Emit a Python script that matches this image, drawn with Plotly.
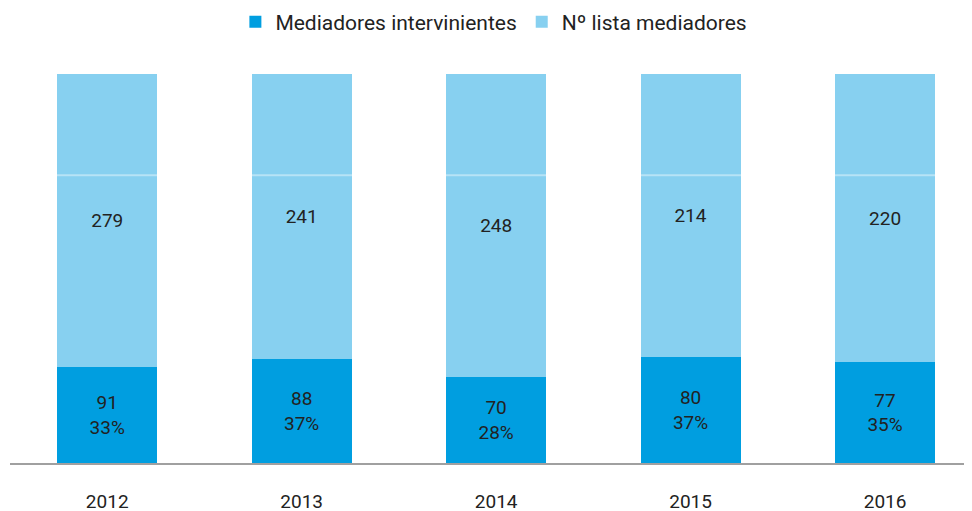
import plotly.graph_objects as go

years = ["2012", "2013", "2014", "2015", "2016"]
intervinientes = [91, 88, 70, 80, 77]
lista = [279, 241, 248, 214, 220]
pct_labels = ["33%", "37%", "28%", "37%", "35%"]
grid_value = 74

dark = "#009ee0"
light = "#87d0f0"
txt = "#222222"

fig = go.Figure()
fig.add_trace(go.Bar(
    x=years, y=intervinientes, name="Mediadores intervinientes",
    marker=dict(color=dark, line=dict(width=0)),
    text=[f"{v}<br>{p}" for v, p in zip(intervinientes, pct_labels)],
    textposition="inside", insidetextanchor="middle",
    textfont=dict(size=19, color=txt, family="Roboto"),
    hoverinfo="skip",
))
fig.add_trace(go.Bar(
    x=years, y=lista, name="Nº lista mediadores",
    marker=dict(color=light, line=dict(width=0)),
    text=[str(v) for v in lista],
    textposition="inside", insidetextanchor="middle",
    textfont=dict(size=19, color=txt, family="Roboto"),
    hoverinfo="skip",
))

fig.add_shape(type="line", xref="paper", x0=0, x1=1, yref="y", y0=grid_value, y1=grid_value,
              line=dict(color="rgba(255,255,255,0.4)", width=2), layer="above")

# page body adds an 8px offset, so the figure is sized to fit the window
fig.update_layout(
    width=964, height=503,
    barmode="stack", barnorm="percent", bargap=0.486,
    margin=dict(l=2, r=0, t=66, b=48, autoexpand=False),
    paper_bgcolor="white", plot_bgcolor="white",
    font=dict(family="Roboto", color=txt, size=19),
    showlegend=True,
    legend=dict(orientation="h", x=0.503, xanchor="center", y=0.972, yanchor="middle",
                yref="container", font=dict(size=21, color=txt), traceorder="normal",
                itemwidth=30),
    xaxis=dict(type="category", range=[-0.5, 4.447], showgrid=False,
               showline=True, linecolor="#a0a0a0", linewidth=2,
               ticks="outside", ticklen=20, tickcolor="rgba(0,0,0,0)",
               tickfont=dict(size=19, color=txt)),
    yaxis=dict(range=[0, 100], visible=False, showgrid=False, zeroline=False),
    uniformtext=dict(mode=False),
)
fig.write_html("out.html")
